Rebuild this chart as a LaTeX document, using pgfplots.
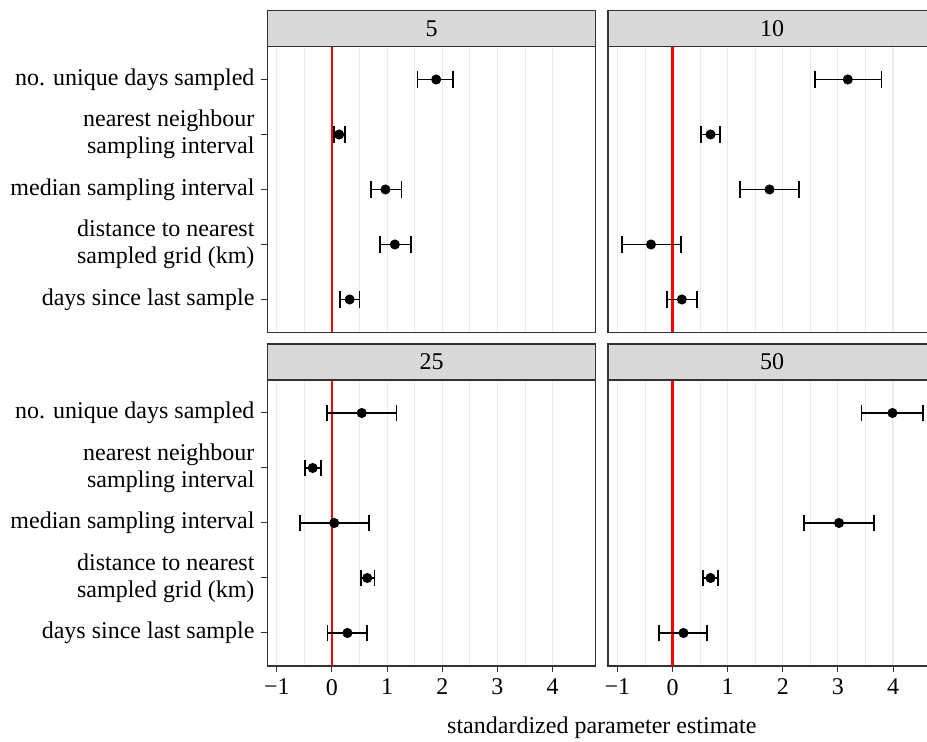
\documentclass[border=0pt]{standalone}
\usepackage{fontspec}
\setmainfont{Liberation Serif}
\usepackage{pgfplots}
\usepackage{pgfplotstable}
\pgfplotsset{compat=1.18}

\definecolor{grey20}{HTML}{333333}
\definecolor{grey85}{HTML}{D9D9D9}
\definecolor{grey92}{HTML}{EBEBEB}

% row: 1 = no. unique days, 2 = nearest neighbour, 3 = median,
%      4 = distance, 5 = days since last sample
\pgfplotstableread{
row est lo hi
1 1.89 1.55 2.20
2 0.13 0.04 0.24
3 0.97 0.71 1.26
4 1.14 0.87 1.43
5 0.32 0.15 0.50
}\tabfive
\pgfplotstableread{
row est lo hi
1 3.18 2.58 3.79
2 0.69 0.51 0.86
3 1.76 1.22 2.29
4 -0.39 -0.92 0.16
5 0.17 -0.10 0.44
}\tabten
\pgfplotstableread{
row est lo hi
1 0.54 -0.09 1.17
2 -0.35 -0.49 -0.20
3 0.04 -0.58 0.67
4 0.64 0.52 0.77
5 0.28 -0.08 0.63
}\tabtwentyfive
\pgfplotstableread{
row est lo hi
1 3.99 3.43 4.54
3 3.02 2.38 3.66
4 0.69 0.56 0.82
5 0.20 -0.24 0.63
}\tabfifty

\newcommand\lbl{\fontsize{12}{13.5}\selectfont}

\pgfplotsset{
  panel/.style={
    scale only axis, width=164pt, height=143pt,
    xmin=-1.17, xmax=4.78, ymin=0.4, ymax=5.6, y dir=reverse,
    axis line style={grey20, line width=0.6pt},
    xtick={-1,0,1,2,3,4}, minor x tick num=1,
    xmajorgrids, xminorgrids,
    major grid style={grey92, line width=0.6pt},
    minor grid style={grey92, line width=0.4pt},
    ytick={1,2,3,4,5},
    xtick pos=bottom, ytick pos=left,
    tick align=outside, major tick length=3pt,
    tick style={grey20, line width=0.5pt},
    minor tick style={draw=none},
    xticklabels={}, yticklabels={},
    ticklabel style={font=\lbl},
    yticklabel style={align=right},
  },
  leftcol/.style={
    yticklabels={no. unique days sampled,
      {nearest neighbour\\sampling interval},
      median sampling interval,
      {distance to nearest\\sampled grid (km)},
      days since last sample},
  },
  rightcol/.style={ytick style={draw=none}},
  toprow/.style={xtick style={draw=none}},
  bottomrow/.style={xticklabels={−1,0,1,2,3,4}},
  est/.style={black, only marks, mark=*, mark size=2.3pt,
    error bars/.cd, x dir=both, x explicit,
    error bar style={line width=0.9pt, black},
    error mark options={rotate=90, black, line width=0.9pt, mark size=4.2pt}},
}

\newcommand\zeroline{\addplot[red, line width=1.4pt, forget plot] coordinates {(0,0.4) (0,5.6)};}
\newcommand\estplot[1]{\addplot[est] table[x=est, y=row,
  x error plus expr=\thisrow{hi}-\thisrow{est},
  x error minus expr=\thisrow{est}-\thisrow{lo}] {#1};}

\begin{document}
\begin{tikzpicture}
\begin{axis}[panel, leftcol, toprow, name=tl, at={(133.75pt,204.75pt)}, anchor=south west]
  \zeroline
  \estplot{\tabfive}
\end{axis}
\begin{axis}[panel, rightcol, toprow, name=tr, at={(304pt,204.75pt)}, anchor=south west]
  \zeroline
  \estplot{\tabten}
\end{axis}
\begin{axis}[panel, leftcol, bottomrow, name=bl, at={(133.75pt,38pt)}, anchor=south west]
  \zeroline
  \estplot{\tabtwentyfive}
\end{axis}
\begin{axis}[panel, rightcol, bottomrow, name=br, at={(304pt,38pt)}, anchor=south west]
  \zeroline
  \estplot{\tabfifty}
\end{axis}

\foreach \ax/\txt in {tl/5, tr/10, bl/25, br/50} {
  \draw[grey20, fill=grey85, line width=0.6pt]
    (\ax.north west) rectangle ([yshift=18pt]\ax.north east);
  \node[font=\lbl, text=black] at ([yshift=9pt]\ax.north) {\txt};
}

\node[font=\lbl, anchor=base] at (300.9pt,4pt) {standardized parameter estimate};

\pgfresetboundingbox
\useasboundingbox (0,0) rectangle (463.5pt,371pt);
\end{tikzpicture}
\end{document}
